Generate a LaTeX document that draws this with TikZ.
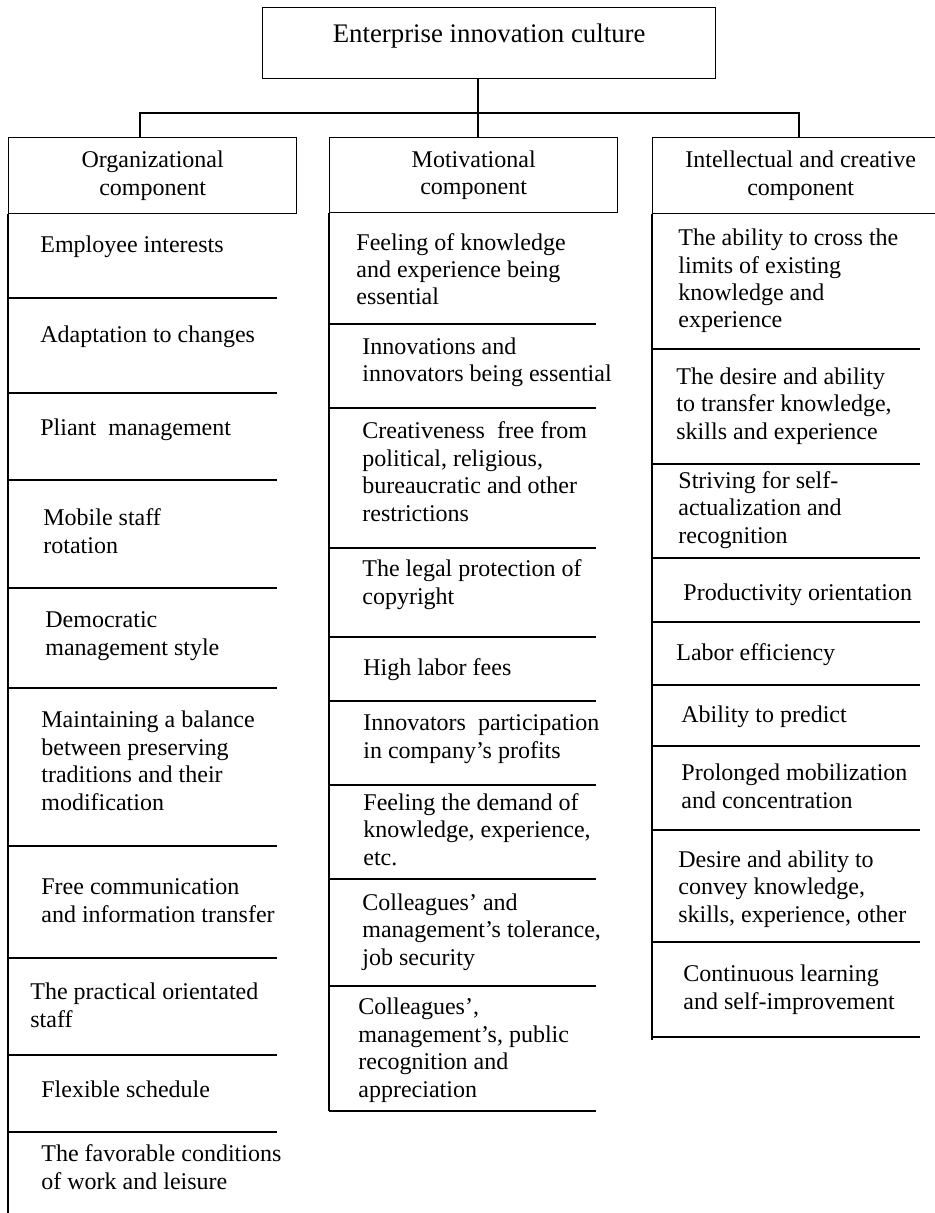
\documentclass[tikz,border=0pt]{standalone}
\usepackage{fontspec}
\setmainfont{Liberation Serif}
\usetikzlibrary{positioning}

\begin{document}
\begin{tikzpicture}[
	x=0.5pt, y=-0.5pt,
	font=\fontsize{12}{13.7}\selectfont,
	rule/.style={line width=0.65pt},
	head/.style={draw, rule, anchor=north west, align=center, inner sep=2pt},
	entry/.style={anchor=base west, align=left, inner sep=0pt},
	]
	\useasboundingbox (0,0) rectangle (935,1213);
	
	\node [draw, rule, anchor=north west, minimum width=226.5pt, inner ysep=3pt,
		text height=14.5pt, text depth=15pt, font=\fontsize{13.4}{15}\selectfont] (culture) at (262,7) {Enterprise innovation culture};
	\node [head, minimum width=144pt, minimum height=38pt] (org) at (8,137) {Organizational\\component};
	\node [head, minimum width=144pt, minimum height=37.5pt] (mot) at (329,137) {Motivational\\component};
	\node [head, minimum width=148pt, minimum height=38pt] (int) at (652,137) {Intellectual and creative\\component};
	
	\coordinate (hub) at (478,113);
	\coordinate (hubL) at (140,113);
	\coordinate (hubR) at (799,113);
	\draw [rule] (culture.south -| hub) -- (hub |- mot.north);
	\draw [rule] (hubL |- org.north) -- (hubL) -- (hubR) -- (hubR |- int.north);
	
	% column rules
	\draw [rule] (org.south west) -- (8,1220);
	\draw [rule] (mot.south west) -- (329,1111);
	\draw [rule] (int.south west) -- (652,1040);
	\foreach \y in {298,393,480,588,688,846,958,1055,1132}
		\draw [rule] (8,\y) -- (277,\y);
	\foreach \y in {324,408,548,637,701,785,879,986,1111}
		\draw [rule] (329,\y) -- (596,\y);
	\foreach \y in {349,464,558,622,685,746,830,942,1037}
		\draw [rule] (652,\y) -- (920,\y);
	
	% organizational (nodes sit on their last baseline)
	\node [entry] (o1) at (40,253) {Employee interests};
	\node [entry] (o2) at (40,343) {Adaptation to changes};
	\node [entry] (o3) at (40,435) {Pliant~ management};
	\node [entry] (o4) at (43,553) {Mobile staff\\rotation};
	\node [entry] (o5) at (45,655) {Democratic\\management style};
	\node [entry] (o6) at (41,810) {Maintaining a balance\\between preserving\\traditions and their\\modification};
	\node [entry] (o7) at (41,922) {Free communication\\and information transfer};
	\node [entry] (o8) at (30,1027) {The practical orientated\\staff};
	\node [entry] (o9) at (41,1097) {Flexible schedule};
	\node [entry] (o10) at (41,1189) {The favorable conditions\\of work and leisure};
	
	% motivational
	\node [entry] (m1) at (356,305) {Feeling of knowledge\\and experience being\\essential};
	\node [entry] (m2) at (362,382) {Innovations and\\innovators being essential};
	\node [entry] (m3) at (362,521) {Creativeness~ free from\\political, religious,\\bureaucratic and other\\restrictions};
	\node [entry] (m4) at (362,604) {The legal protection of\\copyright};
	\node [entry] (m5) at (363,675) {High labor fees};
	\node [entry] (m6) at (363,758) {Innovators~ participation\\in company's profits};
	\node [entry] (m7) at (363,865) {Feeling the demand of\\knowledge, experience,\\etc.};
	\node [entry] (m8) at (362,965) {Colleagues' and\\management's tolerance,\\job security};
	\node [entry] (m9) at (358,1097) {Colleagues',\\management's, public\\recognition and\\appreciation};
	
	% intellectual and creative
	\node [entry] (i1) at (678,328) {The ability to cross the\\limits of existing\\knowledge and\\experience};
	\node [entry] (i2) at (676,439) {The desire and ability\\to transfer knowledge,\\skills and experience};
	\node [entry] (i3) at (678,543) {Striving for self-\\actualization and\\recognition};
	\node [entry] (i4) at (683,600) {Productivity orientation};
	\node [entry] (i5) at (676,660) {Labor efficiency};
	\node [entry] (i6) at (681,722) {Ability to predict};
	\node [entry] (i7) at (681,808) {Prolonged mobilization\\and concentration};
	\node [entry] (i8) at (678,922) {Desire and ability to\\convey knowledge,\\skills, experience, other};
	\node [entry] (i9) at (683,1009) {Continuous learning\\and self-improvement};
\end{tikzpicture}
\end{document}
